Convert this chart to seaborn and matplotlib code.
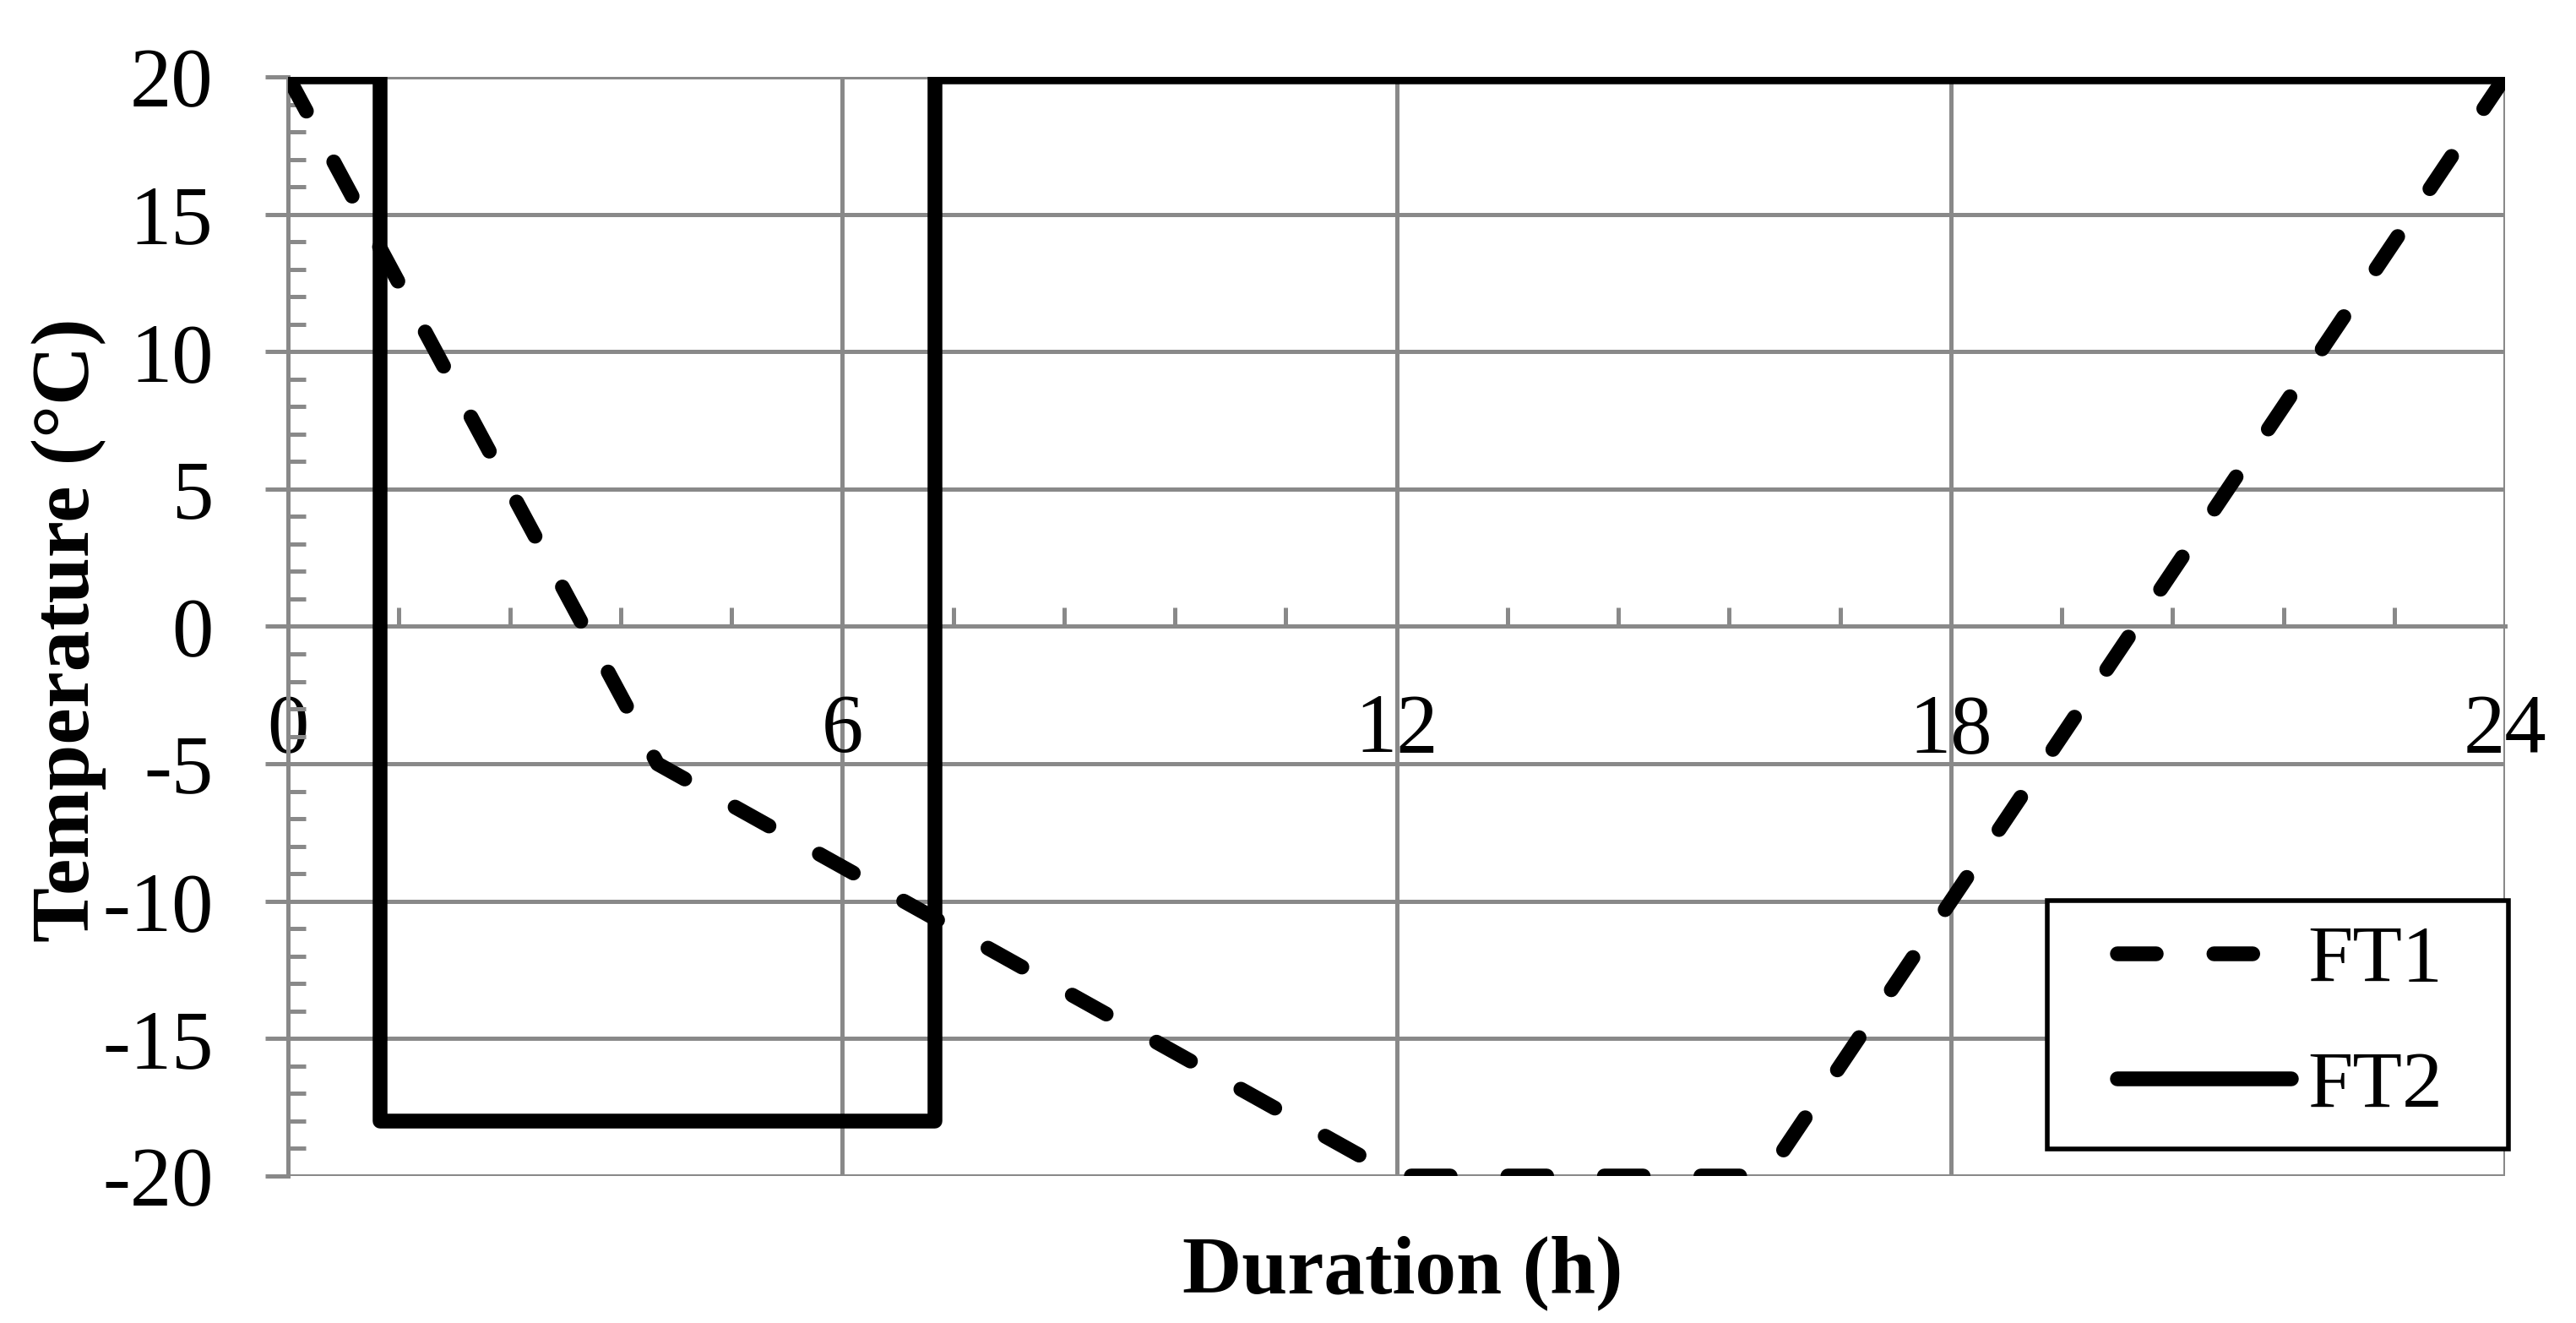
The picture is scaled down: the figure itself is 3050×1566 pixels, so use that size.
import numpy as np
import pandas as pd
import matplotlib
matplotlib.use("Agg")
import matplotlib.pyplot as plt
from matplotlib.ticker import MultipleLocator, FixedLocator
from matplotlib.patches import Rectangle
import seaborn as sns

# ---------------- data ----------------
ft1_time = [0, 4, 12, 16, 24]
ft1_temp = [20, -5, -20, -20, 20]
ft2_time = [0, 1, 1, 7, 7, 24]
ft2_temp = [20, 20, -18, -18, 20, 20]
series_names = ["FT1", "FT2"]
x_ticks = [0, 6, 12, 18, 24]
y_ticks = [-20, -15, -10, -5, 0, 5, 10, 15, 20]
x_label = "Duration (h)"
y_label = "Temperature (°C)"

# ---------------- style ----------------
sns.set_theme(style="white")
plt.rcParams["font.family"] = ["Liberation Serif", "DejaVu Serif"]
plt.rcParams["axes.unicode_minus"] = False

DPI = 200
W, H = 3050, 1566
PX = 72.0 / DPI          # points per pixel
GRID = "#898989"
GLW = 1.8
LW = 17.5 * PX

fig = plt.figure(figsize=(W / DPI, H / DPI), dpi=DPI)
ax = fig.add_axes([341 / W, 1 - 1392 / H, 2625 / W, 1301 / H])

df1 = pd.DataFrame({"time": ft1_time, "temp": ft1_temp})
df2 = pd.DataFrame({"time": ft2_time, "temp": ft2_temp})

sns.lineplot(data=df1, x="time", y="temp", ax=ax, color="black", linewidth=LW,
             estimator=None, sort=False, label=series_names[0],
             linestyle=(0, (2.63, 3.9)), dash_capstyle="round",
             solid_capstyle="round", solid_joinstyle="round")
sns.lineplot(data=df2, x="time", y="temp", ax=ax, color="black", linewidth=LW,
             estimator=None, sort=False, label=series_names[1],
             linestyle="-", solid_capstyle="round", solid_joinstyle="round",
             dash_capstyle="round")

# ---------------- axes ----------------
ax.set_xlim(0, 24)
ax.set_ylim(-20, 20)
ax.xaxis.set_major_locator(FixedLocator(x_ticks))
ax.xaxis.set_minor_locator(MultipleLocator(1.2))
ax.yaxis.set_major_locator(FixedLocator(y_ticks))
ax.yaxis.set_minor_locator(MultipleLocator(1))
ax.set_xticklabels([str(v) for v in x_ticks])
ax.set_yticklabels([str(v) for v in y_ticks])

ax.set_axisbelow(True)
ax.grid(True, which="major", color=GRID, linewidth=GLW)
ax.grid(False, which="minor")

ax.tick_params(axis="y", which="major", direction="out", length=27 * PX,
               width=GLW, color=GRID, labelsize=35.5, labelcolor="black",
               pad=61.5 * PX, left=True)
ax.tick_params(axis="y", which="minor", direction="in", length=21 * PX,
               width=GLW, color=GRID, left=True)
ax.tick_params(axis="x", which="major", length=0, labelsize=35.5,
               labelcolor="black", pad=80 * PX, bottom=True)
ax.tick_params(axis="x", which="minor", direction="in", length=22 * PX,
               width=GLW, color=GRID, bottom=True)

for s in ["top", "right"]:
    ax.spines[s].set_visible(False)
for s in ["left", "bottom"]:
    ax.spines[s].set_color(GRID)
    ax.spines[s].set_linewidth(GLW)
    ax.spines[s].set_zorder(1)
ax.spines["bottom"].set_position(("data", 0))

ax.set_xlabel(x_label, fontsize=35, fontweight="bold", color="black")
ax.set_ylabel(y_label, fontsize=35, fontweight="bold", color="black")
ax.xaxis.set_label_coords((1661 - 341) / 2625, (1392 - 1462) / 1301)
ax.yaxis.set_label_coords((126 - 341) / 2625, 0.497)

# ---------------- legend ----------------
LEG_FS = 34.5
leg = ax.legend(loc="center", bbox_to_anchor=(2699.5 / W, 1 - 1213 / H),
                bbox_transform=fig.transFigure, frameon=False, fontsize=LEG_FS,
                handlelength=2.15, handletextpad=0.2, labelspacing=0.64,
                borderpad=0)
for t in leg.get_texts():
    t.set_color("black")
leg.set_zorder(6)

fig.canvas.draw()
ext = leg.get_window_extent(fig.canvas.get_renderer())
fs_px = LEG_FS / PX
x0 = ext.x0 - 0.87 * fs_px
x1 = ext.x1 + 0.81 * fs_px
y0 = ext.y0 - 0.31 * fs_px
y1 = ext.y1 + 0.31 * fs_px
inv = ax.transAxes.inverted()
(ax0, ay0), (ax1, ay1) = inv.transform([(x0, y0), (x1, y1)])
ax.add_patch(Rectangle((ax0, ay0), ax1 - ax0, ay1 - ay0, transform=ax.transAxes,
                       facecolor="white", edgecolor="black", linewidth=2.0,
                       zorder=5.5, clip_on=False))

fig.savefig("out.png", dpi=DPI, facecolor="white")
